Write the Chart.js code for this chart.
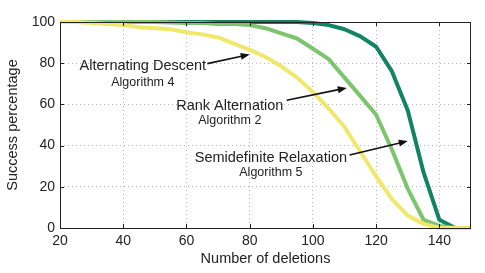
<!DOCTYPE html>
<html>
<head>
<meta charset="utf-8">
<script src="https://cdn.jsdelivr.net/npm/chart.js@4.4.1/dist/chart.umd.min.js"></script>
<style>
  html, body { margin: 0; padding: 0; background: #fff; }
  #wrap { width: 485px; height: 273px; }
</style>
</head>
<body>
<div id="wrap"><canvas id="chart" width="485" height="273"></canvas></div>
<script>
// number of deletions (x values)
const deletions = [20, 25, 30, 35, 40, 45, 50, 55, 60, 65, 70, 75, 80, 85, 90, 95, 100, 105, 110, 115, 120, 125, 130, 135, 140, 145, 150];
// success percentage per algorithm
const alternatingDescent = [100, 100, 99.5, 99, 98.5, 97.5, 97, 96.5, 95, 94, 92.5, 89.5, 86.5, 83, 78.5, 73, 66, 58, 49, 37, 25, 14, 6, 2, 0, 0, 0];
const rankAlternation = [100, 100, 100, 100, 100, 100, 100, 99.8, 99.5, 99.5, 99, 99, 98.5, 97, 94.5, 92, 87, 82, 73, 64, 55, 38, 19, 4, 1, 0, 0];
const semidefinite = [100, 100, 100, 100, 100, 100, 100, 100, 100, 100, 100, 100, 100, 100, 100, 100, 99.5, 98.5, 96.5, 93, 88, 76, 57, 27, 4, 0, 0];

const xTicks = [20, 40, 60, 80, 100, 120, 140];
const yTicks = [0, 20, 40, 60, 80, 100];

// annotation labels: [title, subtitle, text x, text y, sub y, arrow from x,y, arrow to x,y] in data units
const notes = [
    ['Alternating Descent', 'Algorithm 4', 46.2, 78.5, 70.8, 66.6, 79.8, 80, 84.2],
    ['Rank Alternation', 'Algorithm 2', 73.7, 59.2, 52, 91.7, 62, 110.7, 68],
    ['Semidefinite Relaxation', 'Algorithm 5', 86.7, 34, 26.7, 111.6, 35.4, 130, 42.2]
];

const FONT = '"Liberation Sans", Arial, Helvetica, sans-serif';

const toPoints = ys => ys.map((y, i) => ({ x: deletions[i], y }));

const frame = {
    id: 'frame',
    afterDatasetsDraw(chart) {
        const { ctx, chartArea: a, scales: { x, y } } = chart;
        ctx.save();
        ctx.strokeStyle = '#222';
        ctx.lineWidth = 1;
        ctx.strokeRect(a.left + 0.5, a.top + 0.5, a.right - a.left - 1, a.bottom - a.top);
        ctx.beginPath();
        xTicks.forEach(v => {
            const px = Math.round(x.getPixelForValue(v)) + 0.5;
            ctx.moveTo(px, a.bottom); ctx.lineTo(px, a.bottom - 4);
            ctx.moveTo(px, a.top); ctx.lineTo(px, a.top + 4);
        });
        yTicks.forEach(v => {
            const py = Math.round(y.getPixelForValue(v)) + 0.5;
            ctx.moveTo(a.left, py); ctx.lineTo(a.left + 4, py);
            ctx.moveTo(a.right, py); ctx.lineTo(a.right - 4, py);
        });
        ctx.stroke();

        // annotations
        ctx.fillStyle = '#222';
        ctx.textAlign = 'center';
        ctx.textBaseline = 'middle';
        notes.forEach(n => {
            const tx = x.getPixelForValue(n[2]);
            ctx.font = '14.5px ' + FONT;
            ctx.fillText(n[0], tx, y.getPixelForValue(n[3]));
            ctx.font = '12.5px ' + FONT;
            ctx.fillText(n[1], tx, y.getPixelForValue(n[4]));
            const x1 = x.getPixelForValue(n[5]), y1 = y.getPixelForValue(n[6]);
            const x2 = x.getPixelForValue(n[7]), y2 = y.getPixelForValue(n[8]);
            const ang = Math.atan2(y2 - y1, x2 - x1);
            const hl = 9, hw = 3.5;
            ctx.strokeStyle = '#111';
            ctx.lineWidth = 1.6;
            ctx.beginPath();
            ctx.moveTo(x1, y1);
            ctx.lineTo(x2 - Math.cos(ang) * hl * 0.8, y2 - Math.sin(ang) * hl * 0.8);
            ctx.stroke();
            ctx.fillStyle = '#111';
            ctx.beginPath();
            ctx.moveTo(x2, y2);
            ctx.lineTo(x2 - Math.cos(ang) * hl - Math.sin(ang) * hw, y2 - Math.sin(ang) * hl + Math.cos(ang) * hw);
            ctx.lineTo(x2 - Math.cos(ang) * hl + Math.sin(ang) * hw, y2 - Math.sin(ang) * hl - Math.cos(ang) * hw);
            ctx.closePath();
            ctx.fill();
            ctx.fillStyle = '#222';
        });
        ctx.restore();
    }
};

new Chart(document.getElementById('chart'), {
    type: 'line',
    data: {
        datasets: [
            { label: 'Alternating Descent', data: toPoints(alternatingDescent), borderColor: '#f0e86c' },
            { label: 'Rank Alternation', data: toPoints(rankAlternation), borderColor: '#7cc46e' },
            { label: 'Semidefinite Relaxation', data: toPoints(semidefinite), borderColor: '#12845f' }
        ].map(d => Object.assign(d, { borderWidth: 4, pointRadius: 0, tension: 0, fill: false, borderJoinStyle: 'round', clip: 4 }))
    },
    options: {
        responsive: false,
        animation: false,
        layout: { padding: { left: 0, right: 14, top: 22, bottom: 0 } },
        plugins: { legend: { display: false }, tooltip: { enabled: false } },
        scales: {
            x: {
                type: 'linear',
                min: 20,
                max: 150,
                afterBuildTicks: s => { s.ticks = xTicks.map(v => ({ value: v })); },
                afterFit: s => { s.height = 45; },
                ticks: { color: '#222', font: { family: FONT, size: 14 }, padding: 5, maxRotation: 0 },
                grid: { color: '#b8b8b8', lineWidth: 1, drawTicks: false },
                border: { display: false, dash: [1, 3] },
                title: { display: true, text: 'Number of deletions', color: '#222', font: { family: FONT, size: 14.5 }, padding: { top: 0, bottom: 5 } }
            },
            y: {
                min: 0,
                max: 100,
                afterBuildTicks: s => { s.ticks = yTicks.map(v => ({ value: v })); },
                afterFit: s => { s.width = 60; },
                ticks: { color: '#222', font: { family: FONT, size: 14 }, padding: 5 },
                grid: { color: '#b8b8b8', lineWidth: 1, drawTicks: false },
                border: { display: false, dash: [1, 3] },
                title: { display: true, text: 'Success percentage', color: '#222', font: { family: FONT, size: 14.5 }, padding: { top: 4, bottom: 0 } }
            }
        }
    },
    plugins: [frame]
});
</script>
</body>
</html>
